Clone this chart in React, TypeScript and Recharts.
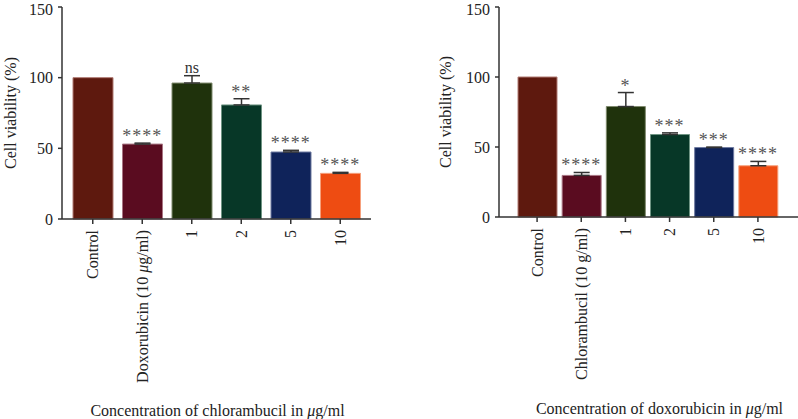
import React from "react"
import {
  ComposedChart, Bar, Line, XAxis, YAxis, ErrorBar, LabelList, Cell
} from "recharts"

const categoriesLeft = ["Control", "Doxorubicin (10 μg/ml)", "1", "2", "5", "10"]
const viabilityLeft = [100, 53, 96.2, 80.7, 47.4, 32.3]
const errorLeft = [null, 0.7, 5.2, 4.4, 1.2, 0.7]
const sigLeft = ["", "****", "ns", "**", "****", "****"]

const categoriesRight = ["Control", "Chlorambucil (10 g/ml)", "1", "2", "5", "10"]
const viabilityRight = [100, 29.7, 78.9, 58.9, 49.6, 36.6]
const errorRight = [null, 2.1, 10, 1.2, 0.3, 3.1]
const sigRight = ["", "****", "*", "***", "***", "****"]

const barColors = ["#5e190e", "#5a0c20", "#1f320c", "#073727", "#0f235a", "#ee4c12"]
const barEdges = ["#b07a72", "#a87583", "#7f8a6e", "#6f9483", "#6f7aa0", "#f6a07c"]
const yTicks = [0, 50, 100, 150]

const FONT = "'Liberation Serif', 'Times New Roman', serif"
const INK = "#222"

// splits on μ so the mu can be italic like the original
function withMu(text: string) {
  const parts = text.split("μ")
  return parts.map((p, i) => (
    <React.Fragment key={i}>
      {i > 0 && <tspan fontStyle="italic">μ</tspan>}
      <tspan>{p}</tspan>
    </React.Fragment>
  ))
}

function RotatedTick(props: any) {
  const { x, y, payload } = props
  return (
    <g transform={`translate(${x},${y})`}>
      <text
        transform="rotate(-90)"
        x={0}
        y={0}
        dy="0.35em"
        textAnchor="end"
        fontFamily={FONT}
        fontSize={16}
        fill={INK}
      >
        {withMu(payload.value)}
      </text>
    </g>
  )
}

// significance marks, asterisks drawn a bit larger/spaced like GraphPad
function SigLabel(props: any) {
  const { x, y, width, value } = props
  if (!value) return null
  const stars = value.startsWith("*")
  return (
    <text
      x={x + (width || 0) / 2}
      y={stars ? y - 1 : y - 3}
      textAnchor="middle"
      fontFamily={FONT}
      fontSize={stars ? 18 : 16}
      letterSpacing={stars ? 1 : 0}
      fill={stars ? "#555" : "#333"}
    >
      {value}
    </text>
  )
}

function build(cats: string[], vals: number[], errs: (number | null)[], sig: string[]) {
  return cats.map((c, i) => ({
    name: c,
    value: vals[i],
    err: errs[i] == null ? null : [0, errs[i]],
    top: vals[i] + (errs[i] ?? 0),
    sig: sig[i],
  }))
}

function ViabilityChart({
  data, width, yAxisWidth, plotHeight, marginRight, padLeft, padRight,
  barSize, xTitle, titleShift, yTitleX,
}: any) {
  const height = 419
  const top = 7
  return (
    <ComposedChart
      width={width}
      height={height}
      data={data}
      margin={{ top, right: marginRight, left: 0, bottom: 0 }}
    >
      <XAxis
        dataKey="name"
        type="category"
        interval={0}
        height={height - top - plotHeight}
        padding={{ left: padLeft, right: padRight }}
        axisLine={{ stroke: "#333", strokeWidth: 1.5 }}
        tickLine={{ stroke: "#333", strokeWidth: 1.5 }}
        tickSize={5}
        tickMargin={6}
        tick={<RotatedTick />}
        label={{
          position: "insideBottom",
          content: (p: any) => {
            const vb = p.viewBox
            return (
              <text
                x={vb.x + vb.width / 2 + titleShift}
                y={vb.y + 197}
                textAnchor="middle"
                fontFamily={FONT}
                fontSize={16}
                fill={INK}
              >
                {withMu(xTitle)}
              </text>
            )
          },
        }}
      />
      <YAxis
        type="number"
        domain={[0, 150]}
        ticks={yTicks}
        width={yAxisWidth}
        axisLine={{ stroke: "#333", strokeWidth: 1.5 }}
        tickLine={{ stroke: "#333", strokeWidth: 1.5 }}
        tickSize={4}
        tickMargin={5}
        tick={{ fontFamily: FONT, fontSize: 16, fill: INK }}
        label={{
          position: "insideLeft",
          content: (p: any) => {
            const vb = p.viewBox
            const cx = vb.x + yTitleX
            const cy = vb.y + vb.height / 2
            return (
              <text
                x={cx}
                y={cy}
                transform={`rotate(-90, ${cx}, ${cy})`}
                textAnchor="middle"
                dominantBaseline="central"
                fontFamily={FONT}
                fontSize={16}
                fill={INK}
              >
                Cell viability (%)
              </text>
            )
          },
        }}
      />
      <Bar dataKey="value" barSize={barSize} isAnimationActive={false}>
        {data.map((d: any, i: number) => (
          <Cell key={d.name} fill={barColors[i]} stroke={barEdges[i]} strokeWidth={1} />
        ))}
        <ErrorBar dataKey="err" width={8} stroke="#333" strokeWidth={1.5} direction="y" />
      </Bar>
      <Line
        dataKey="top"
        stroke="none"
        dot={false}
        activeDot={false}
        isAnimationActive={false}
      >
        <LabelList dataKey="sig" content={<SigLabel />} />
      </Line>
    </ComposedChart>
  )
}

export default function App() {
  const left = build(categoriesLeft, viabilityLeft, errorLeft, sigLeft)
  const right = build(categoriesRight, viabilityRight, errorRight, sigRight)
  return (
    <div style={{ position: "absolute", left: 0, top: 0, width: 798, height: 419, background: "#fff" }}>
      <div style={{ position: "absolute", left: 0, top: 0 }}>
        <ViabilityChart
          data={left}
          width={400}
          yAxisWidth={62}
          plotHeight={212}
          marginRight={29}
          padLeft={6}
          padRight={6}
          barSize={40}
          xTitle="Concentration of chlorambucil in μg/ml"
          titleShift={1}
          yTitleX={10}
        />
      </div>
      <div style={{ position: "absolute", left: 400, top: 0 }}>
        <ViabilityChart
          data={right}
          width={398}
          yAxisWidth={99}
          plotHeight={210}
          marginRight={0}
          padLeft={16}
          padRight={18}
          barSize={39}
          xTitle="Concentration of doxorubicin in μg/ml"
          titleShift={11}
          yTitleX={45}
        />
      </div>
    </div>
  )
}
